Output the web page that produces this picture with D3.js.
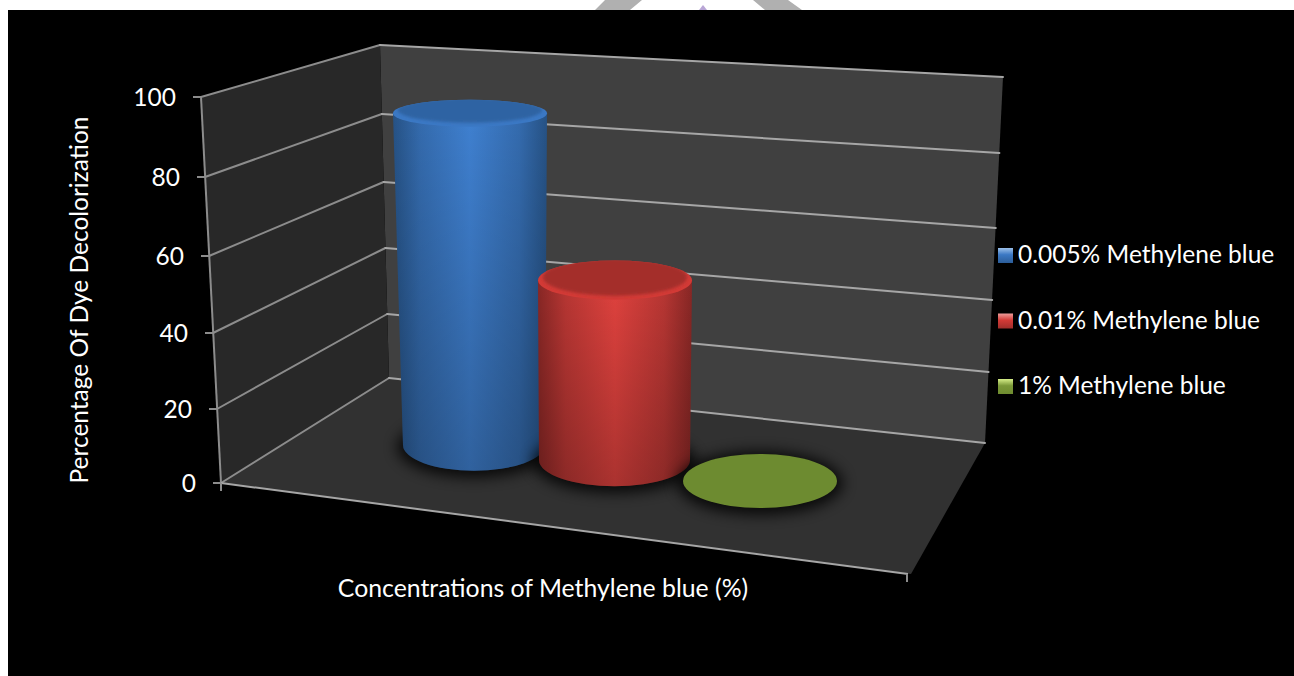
<!DOCTYPE html>
<html>
<head>
<meta charset="utf-8">
<script src="https://cdn.jsdelivr.net/npm/d3@7/dist/d3.min.js"></script>
<style>
html, body { margin: 0; padding: 0; background: #fff; }
svg { display: block; }
text { font-family: Lato, "Open Sans", sans-serif; fill: #fff; }
</style>
</head>
<body>
<div id="chart"></div>
<script>
// chart values
var yTicks = [0, 20, 40, 60, 80, 100];
var seriesNames = ["0.005% Methylene blue", "0.01% Methylene blue", "1% Methylene blue"];
var seriesValues = [88, 46, 0];
var xTitle = "Concentrations of Methylene blue (%)";
var yTitle = "Percentage Of Dye Decolorization";

var svg = d3.select("#chart").append("svg")
    .attr("width", 1294)
    .attr("height", 676);

// scraps of a watermark above the black panel
svg.append("path").attr("d", "M605,0L642,0L630,10L595,10Z M753,0L788,0L802,10L765,10Z").attr("fill", "#b0b0b0");
svg.append("path").attr("d", "M703,5L699,10L707,10Z").attr("fill", "#b9a6d6");

svg.append("rect").attr("x", 8).attr("y", 10).attr("width", 1286).attr("height", 666).attr("fill", "#000");

// scales for the three edges of the 3D box, one for y and one for x
var frontY = d3.scaleLinear().domain(yTicks).range([483, 409, 333, 256, 177, 97]);
var frontX = d3.scaleLinear().domain([0, 100]).range([221, 201]);
var cornerY = d3.scaleLinear().domain(yTicks).range([378, 314, 248, 182, 114, 45]);
var cornerX = d3.scaleLinear().domain([0, 100]).range([389, 380]);
var backY = d3.scaleLinear().domain(yTicks).range([443, 372, 300, 228, 153, 77]);
var backX = d3.scaleLinear().domain([0, 100]).range([985, 1003]);

// scales for the cylinders
var barX = d3.scalePoint().domain(seriesNames).range([470, 760]);
var baseX = d3.scaleOrdinal().domain(seriesNames).range([474, 614.5, 760]);
var baseY = d3.scaleOrdinal().domain(seriesNames).range([445, 460, 481]);
var baseRx = d3.scaleOrdinal().domain(seriesNames).range([71, 75.5, 77]);
var heightAt = d3.scaleOrdinal().domain(seriesNames).range([377, 391, 400]);
var ryAt = d3.scaleLinear().domain([113, 481]).range([13.5, 27]);
var topRx = 77;

var colors = d3.scaleOrdinal().domain(seriesNames).range([
    {edge: "#265285", mid: "#3f80d0", top: "#2f63a3", rim: "#3b78c4", light: "#9cc0ea", dark: "#2c5d98"},
    {edge: "#882725", mid: "#e0423e", top: "#a42e2b", rim: "#d23a36", light: "#ee9c9a", dark: "#a02e2b"},
    {edge: "#5f7b2a", mid: "#7c9a3c", top: "#6d8b30", rim: "#7a9838", light: "#d6ee88", dark: "#6f8c30"}
]);

var defs = svg.append("defs");
defs.append("filter").attr("id", "blur").attr("x", "-30%").attr("y", "-50%").attr("width", "160%").attr("height", "200%")
    .append("feGaussianBlur").attr("stdDeviation", 7);
defs.append("filter").attr("id", "soft").attr("x", "-10%").attr("y", "-30%").attr("width", "120%").attr("height", "160%")
    .append("feGaussianBlur").attr("stdDeviation", 1.6);
defs.append("filter").attr("id", "line").attr("filterUnits", "userSpaceOnUse")
    .attr("x", 0).attr("y", 0).attr("width", 1294).attr("height", 676)
    .append("feGaussianBlur").attr("stdDeviation", 0.5);

seriesNames.forEach(function(name, i) {
    var g = defs.append("linearGradient").attr("id", "body" + i);
    g.append("stop").attr("offset", "0%").attr("stop-color", colors(name).edge);
    g.append("stop").attr("offset", "18%").attr("stop-color", d3.interpolateRgb(colors(name).edge, colors(name).mid)(0.55));
    g.append("stop").attr("offset", "50%").attr("stop-color", colors(name).mid);
    g.append("stop").attr("offset", "82%").attr("stop-color", d3.interpolateRgb(colors(name).edge, colors(name).mid)(0.55));
    g.append("stop").attr("offset", "100%").attr("stop-color", colors(name).edge);

    var k = defs.append("linearGradient").attr("id", "key" + i).attr("x1", 0).attr("x2", 0).attr("y1", 0).attr("y2", 1);
    k.append("stop").attr("offset", "0%").attr("stop-color", colors(name).light);
    k.append("stop").attr("offset", "45%").attr("stop-color", colors(name).rim);
    k.append("stop").attr("offset", "100%").attr("stop-color", colors(name).dark);
});
var shade = defs.append("linearGradient").attr("id", "shade").attr("x1", 0).attr("x2", 0).attr("y1", 0).attr("y2", 1);
shade.append("stop").attr("offset", "0%").attr("stop-color", "#000").attr("stop-opacity", 0);
shade.append("stop").attr("offset", "100%").attr("stop-color", "#000").attr("stop-opacity", 0.24);

// walls and floor
function poly(points, fill) {
    svg.append("path").attr("d", d3.line()(points) + "Z").attr("fill", fill);
}
poly([[cornerX(100), cornerY(100)], [backX(100), backY(100)], [backX(0), backY(0)], [cornerX(0), cornerY(0)]], "#404040");
poly([[frontX(100), frontY(100)], [cornerX(100), cornerY(100)], [cornerX(0), cornerY(0)], [frontX(0), frontY(0)]], "#282828");
poly([[frontX(0), frontY(0)], [cornerX(0), cornerY(0)], [backX(0), backY(0)], [911, 574]], "#313131");

// gridlines on both walls
var grid = svg.append("g").attr("fill", "none").attr("stroke-linecap", "round").attr("filter", "url(#line)");
grid.selectAll(".side").data(yTicks).enter().append("line").attr("class", "side")
    .attr("x1", function(d) { return frontX(d); })
    .attr("y1", function(d) { return frontY(d); })
    .attr("x2", function(d) { return cornerX(d); })
    .attr("y2", function(d) { return cornerY(d); })
    .attr("stroke", "#8c8c8c").attr("stroke-width", 2);
grid.selectAll(".back").data(yTicks).enter().append("line").attr("class", "back")
    .attr("x1", function(d) { return cornerX(d); })
    .attr("y1", function(d) { return cornerY(d); })
    .attr("x2", function(d) { return backX(d); })
    .attr("y2", function(d) { return backY(d); })
    .attr("stroke", "#a6a6a6").attr("stroke-width", 2);

// axis lines and ticks
var axis = svg.append("g").attr("stroke", "#8c8c8c").attr("stroke-width", 2).attr("filter", "url(#line)");
axis.append("line").attr("x1", frontX(0)).attr("y1", frontY(0)).attr("x2", frontX(100)).attr("y2", frontY(100));
axis.append("line").attr("x1", frontX(0)).attr("y1", frontY(0)).attr("x2", 908).attr("y2", 574).attr("stroke", "#a6a6a6");
axis.append("line").attr("x1", frontX(0)).attr("y1", frontY(0)).attr("x2", frontX(0)).attr("y2", frontY(0) + 8);
axis.append("line").attr("x1", 907).attr("y1", 574).attr("x2", 907).attr("y2", 582);
axis.selectAll(".tick").data(yTicks).enter().append("line").attr("class", "tick")
    .attr("x1", function(d) { return frontX(d) - 8; })
    .attr("y1", function(d) { return frontY(d); })
    .attr("x2", function(d) { return frontX(d); })
    .attr("y2", function(d) { return frontY(d); });

svg.selectAll(".ylabel").data(yTicks).enter().append("text").attr("class", "ylabel")
    .attr("x", function(d) { return frontX(d) - 25; })
    .attr("y", function(d) { return frontY(d) + 9; })
    .attr("text-anchor", "end")
    .attr("font-size", 24.5)
    .text(function(d) { return d; });

// cylinders, back to front
seriesNames.forEach(function(name, i) {
    var c = colors(name);
    var bx = baseX(name), by = baseY(name), brx = baseRx(name), bry = ryAt(by);
    var ty = by - seriesValues[i] / 100 * heightAt(name);
    var tx = barX(name), tRy = ryAt(ty);
    var g = svg.append("g").attr("class", "bar");

    g.append("ellipse").attr("cx", bx).attr("cy", by + 2).attr("rx", brx + 6).attr("ry", bry + 5)
        .attr("fill", "#000").attr("opacity", 0.8).attr("filter", "url(#blur)");

    if (seriesValues[i] > 0) {
        var body = "M" + (tx - topRx) + "," + ty + "L" + (tx + topRx) + "," + ty +
            "L" + (bx + brx) + "," + by +
            "A" + brx + "," + bry + " 0 0 1 " + (bx - brx) + "," + by + "Z";
        g.append("path").attr("d", body).attr("fill", "url(#body" + i + ")");
        g.append("path").attr("d", body).attr("fill", "url(#shade)");
    }
    g.append("ellipse").attr("cx", tx).attr("cy", ty).attr("rx", topRx).attr("ry", tRy)
        .attr("fill", seriesValues[i] > 0 ? c.rim : c.top);
    if (seriesValues[i] > 0) {
        // inner lid, pushed up so the rim only shows at the sides and the front
        defs.append("clipPath").attr("id", "lid" + i).append("ellipse")
            .attr("cx", tx).attr("cy", ty).attr("rx", topRx).attr("ry", tRy);
        g.append("g").attr("clip-path", "url(#lid" + i + ")").append("ellipse")
            .attr("cx", tx).attr("cy", ty - 3).attr("rx", topRx - 5).attr("ry", tRy - 1)
            .attr("fill", c.top).attr("filter", "url(#soft)");
    }
});

// legend
var legendY = d3.scalePoint().domain(seriesNames).range([255, 386]);
var legend = svg.selectAll(".legend").data(seriesNames).enter().append("g").attr("class", "legend")
    .attr("transform", function(d) { return "translate(0," + legendY(d) + ")"; });
legend.append("rect").attr("x", 998).attr("y", -7).attr("width", 15).attr("height", 15)
    .attr("fill", function(d, i) { return "url(#key" + i + ")"; });
legend.append("text").attr("x", 1018).attr("y", 8).attr("font-size", 24.5)
    .text(function(d) { return d; });

// axis titles
svg.append("text").attr("x", 543).attr("y", 597).attr("text-anchor", "middle").attr("font-size", 24.8).text(xTitle);
svg.append("text").attr("transform", "translate(88,300) rotate(-90)").attr("text-anchor", "middle").attr("font-size", 24.5).text(yTitle);
</script>
</body>
</html>
